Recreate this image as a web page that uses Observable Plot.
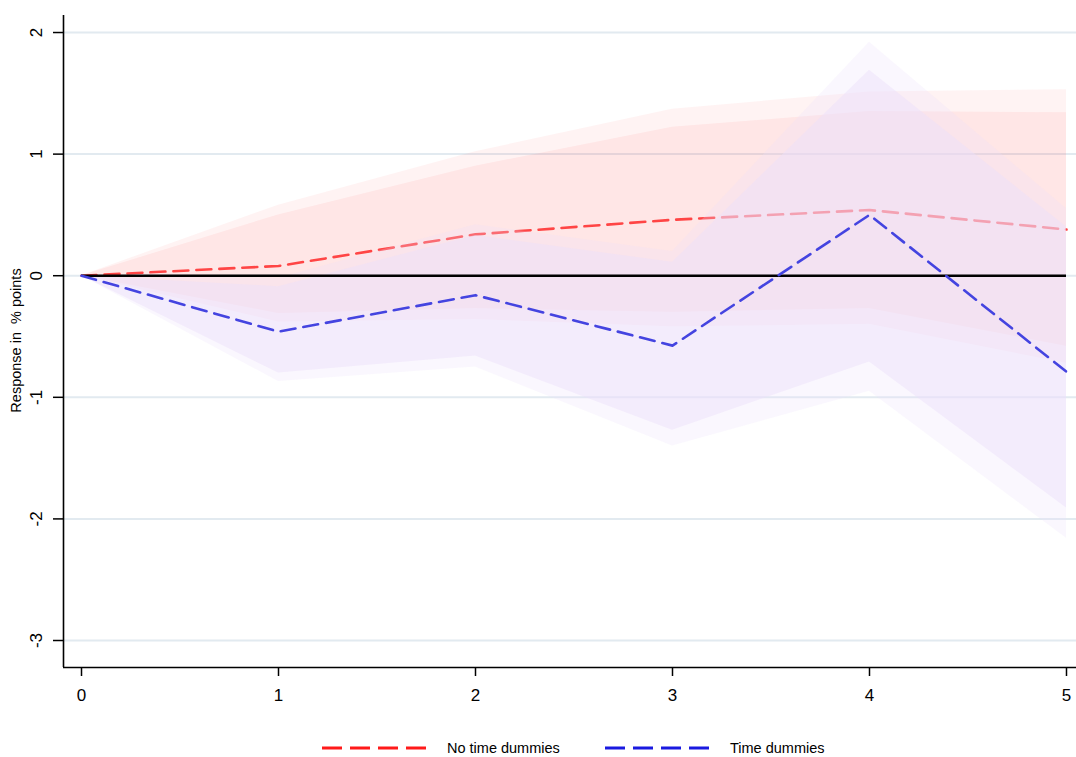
<!DOCTYPE html>
<html>
<head>
<meta charset="utf-8">
<script src="https://cdn.jsdelivr.net/npm/d3@7"></script>
<script src="https://cdn.jsdelivr.net/npm/@observablehq/plot@0.6"></script>
<style>
  html, body { margin: 0; padding: 0; background: #fff; }
  #chart { width: 1076px; }
  #legend { position: relative; width: 1076px; height: 42px; font-family: "Liberation Sans", Arial, sans-serif; }
  #legend .item { position: absolute; top: 18px; height: 30px; display: flex; align-items: center; font-size: 14.5px; color: #000; white-space: nowrap; }
</style>
</head>
<body>
<div id="chart"></div>
<div id="legend"></div>
<script>
// ---- data ----
const horizon = [0, 1, 2, 3, 4, 5];

const noDummyIRF  = [0, 0.08, 0.34, 0.46, 0.54, 0.38];
const noDummyLo68 = [0, -0.31, -0.27, -0.30, -0.27, -0.58];
const noDummyHi68 = [0, 0.50, 0.90, 1.22, 1.35, 1.34];
const noDummyLo90 = [0, -0.38, -0.36, -0.42, -0.40, -0.72];
const noDummyHi90 = [0, 0.58, 1.02, 1.37, 1.51, 1.53];

const dummyIRF  = [0, -0.46, -0.16, -0.575, 0.50, -0.79];
const dummyLo68 = [0, -0.80, -0.66, -1.27, -0.71, -1.91];
const dummyHi68 = [0, -0.09, 0.33, 0.11, 1.69, 0.40];
const dummyLo90 = [0, -0.87, -0.75, -1.40, -0.95, -2.16];
const dummyHi90 = [0, -0.02, 0.42, 0.20, 1.92, 0.55];

const xTicks = [0, 1, 2, 3, 4, 5];
const yTicks = [2, 1, 0, -1, -2, -3];
const yLabel = "Response in  % points";
const seriesNames = ["No time dummies", "Time dummies"];

// ---- build tables ----
const noDummy = horizon.map((h, i) => ({h, irf: noDummyIRF[i], lo68: noDummyLo68[i], hi68: noDummyHi68[i], lo90: noDummyLo90[i], hi90: noDummyHi90[i]}));
const dummy = horizon.map((h, i) => ({h, irf: dummyIRF[i], lo68: dummyLo68[i], hi68: dummyHi68[i], lo90: dummyLo90[i], hi90: dummyHi90[i]}));

const xDomain = [-0.0914, 5.0508];
const yDomain = [-3.222, 2.14];

const redLine = "#ff4545";
const blueLine = "#4444e0";
const redFill = "rgb(255,95,95)";
const blueFill = "rgb(235,223,250)";
const dash = "15,8";
const font = "'Liberation Sans',Arial,sans-serif";

const chart = Plot.plot({
  width: 1076,
  height: 715,
  marginLeft: 63,
  marginRight: 0,
  marginTop: 15,
  marginBottom: 48,
  style: {fontFamily: font, fontSize: "17px", color: "#000", background: "#fff"},
  x: {domain: xDomain, label: null},
  y: {domain: yDomain, label: null},
  marks: [
    // gridlines
    Plot.ruleY(yTicks, {stroke: "#e2eaf0", strokeWidth: 2}),
    // no-time-dummies bands
    Plot.areaY(noDummy, {x: "h", y1: "lo90", y2: "hi90", fill: redFill, fillOpacity: 0.075}),
    Plot.areaY(noDummy, {x: "h", y1: "lo68", y2: "hi68", fill: redFill, fillOpacity: 0.09}),
    Plot.line(noDummy, {x: "h", y: "irf", stroke: redLine, strokeWidth: 2.6, strokeDasharray: dash}),
    // time-dummies bands
    Plot.areaY(dummy, {x: "h", y1: "lo90", y2: "hi90", fill: blueFill, fillOpacity: 0.25}),
    Plot.areaY(dummy, {x: "h", y1: "lo68", y2: "hi68", fill: blueFill, fillOpacity: 0.47}),
    // zero line
    Plot.ruleY([0], {x1: horizon[0], x2: horizon[horizon.length - 1], stroke: "#000", strokeWidth: 2.6}),
    Plot.line(dummy, {x: "h", y: "irf", stroke: blueLine, strokeWidth: 2.6, strokeDasharray: dash}),
    // axes
    Plot.ruleX([xDomain[0]], {stroke: "#000", strokeWidth: 1.6}),
    Plot.ruleY([yDomain[0]], {stroke: "#000", strokeWidth: 1.6}),
    Plot.axisX({ticks: xTicks, tickSize: 9, tickPadding: 12, tickFormat: d => String(d), fontSize: 17, stroke: "#000", strokeWidth: 1.5, label: null}),
    Plot.axisY({ticks: yTicks, tickSize: 10, tickFormat: () => "", stroke: "#000", strokeWidth: 1.5, label: null}),
    Plot.text(yTicks, {x: xDomain[0], y: d => d, text: d => String(d), rotate: -90, dx: -27, textAnchor: "middle", fontSize: 17, fontFamily: font, fill: "#000"}),
    Plot.text([yLabel], {frameAnchor: "left", text: d => d, rotate: -90, dx: -47, dy: -1, textAnchor: "middle", fontSize: 14.5, fontFamily: font, fill: "#000"})
  ]
});
document.getElementById("chart").appendChild(chart);

// ---- legend ----
const legend = document.getElementById("legend");
const legendItems = [
  {name: seriesNames[0], color: "#ff1a1a", left: 322},
  {name: seriesNames[1], color: "#1a1ae0", left: 605}
];
for (const it of legendItems) {
  const div = document.createElement("div");
  div.className = "item";
  div.style.left = it.left + "px";
  div.innerHTML = `<svg width="110" height="10" style="margin-right:15px"><line x1="0" y1="5" x2="110" y2="5" stroke="${it.color}" stroke-width="3" stroke-dasharray="20,8"/></svg><span>${it.name}</span>`;
  legend.appendChild(div);
}
</script>
</body>
</html>
